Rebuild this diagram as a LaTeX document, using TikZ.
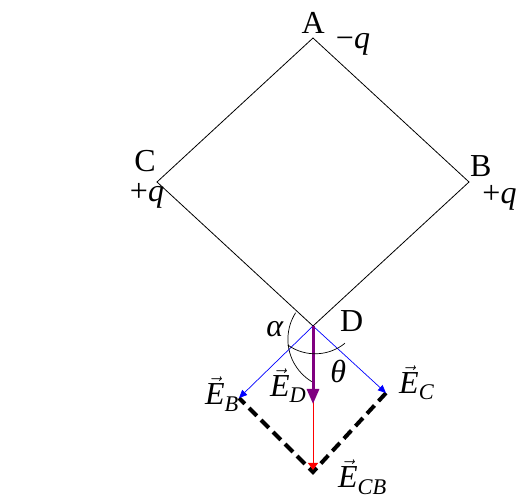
\documentclass[tikz,border=0pt]{standalone}
\usepackage{amsmath}
\usepackage{fontspec}
\setmainfont{Liberation Serif}
\usepackage{tikz}
\usetikzlibrary{arrows.meta,positioning}
\usepackage{xcolor}
\definecolor{netpurple}{RGB}{128,0,128}
\newcommand{\vecE}[1]{$\vec{\text{\itshape E}}_{\text{\itshape #1}}$}

\begin{document}
\begin{tikzpicture}[x=1pt, y=1pt,
      font=\fontsize{32}{34}\selectfont,
      lbl/.style={anchor=base, inner sep=0pt},
      sq/.style={line width=0.8pt},
      evec/.style={blue, line width=0.7pt, -{Triangle[length=8pt,width=7pt]}},
      enet/.style={netpurple, line width=3pt, -{Triangle[length=15pt,width=12pt]}},
      esum/.style={red, line width=1pt, -{Triangle[length=7pt,width=10pt]}},
      dashsq/.style={line width=4pt, dash pattern=on 11pt off 6pt, dash phase=2.8pt},
      angarc/.style={line width=0.7pt}
    ]
    \useasboundingbox (0,0) rectangle (517,498);
    % ---- square of charges ----
    \coordinate (A) at (313,460);
    \coordinate (B) at (469,316);
    \coordinate (C) at (157,316);
    \coordinate (D) at (313,172);
    \draw[sq] (A) -- (B) -- (D) -- (C) -- cycle;

    % ---- fields at D ----
    \coordinate (EB) at (239,100);
    \coordinate (EC) at (386,105);
    \coordinate (ECB) at (313,28);
    \coordinate (corner) at (313,26);
    \coordinate (ED) at (313,94);
    \draw[dashsq] (EB) -- (corner) -- (EC);
    \draw[evec] (D) -- (EB);
    \draw[evec] (D) -- (EC);
    \draw[esum] (D) -- (ECB);
    \draw[enet] (D) -- (ED);

    % ---- angles ----
    \coordinate (alphaC) at (337.4,158.7);
    \coordinate (thetaC) at (315.2,191.5);
    \draw[angarc] ([shift={(147.5:49.5)}]alphaC) arc[start angle=147.5, end angle=238.8, radius=49.5];
    \draw[angarc] ([shift={(234.5:47.3)}]thetaC) arc[start angle=234.5, end angle=309, radius=47.3];

    % ---- labels ----
    \node[lbl] (lA) at (313.3,464.7) {A};
    \node[lbl] (qA) at (353,449.5) {−\textit{q}};
    \node[lbl] (lB) at (480.7,321.3) {B};
    \node[lbl] (qB) at (499.5,294) {+\textit{q}};
    \node[lbl] (lC) at (145,326.3) {C};
    \node[lbl] (qC) at (147,296.3) {+\textit{q}};
    \node[lbl] (lD) at (351.7,166.3) {D};
    \node[lbl] (lalpha) at (275,161.3) {\textit{α}};
    \node[lbl] (ltheta) at (338.3,115) {\textit{θ}};
    \node[lbl] (lEB) at (222,93) {\vecE{B}};
    \node[lbl] (lED) at (288.3,101.3) {\vecE{D}};
    \node[lbl] (lEC) at (416.7,104.7) {\vecE{C}};
    \node[lbl] (lECB) at (362.5,10) {\vecE{CB}};
  \end{tikzpicture}
\end{document}
